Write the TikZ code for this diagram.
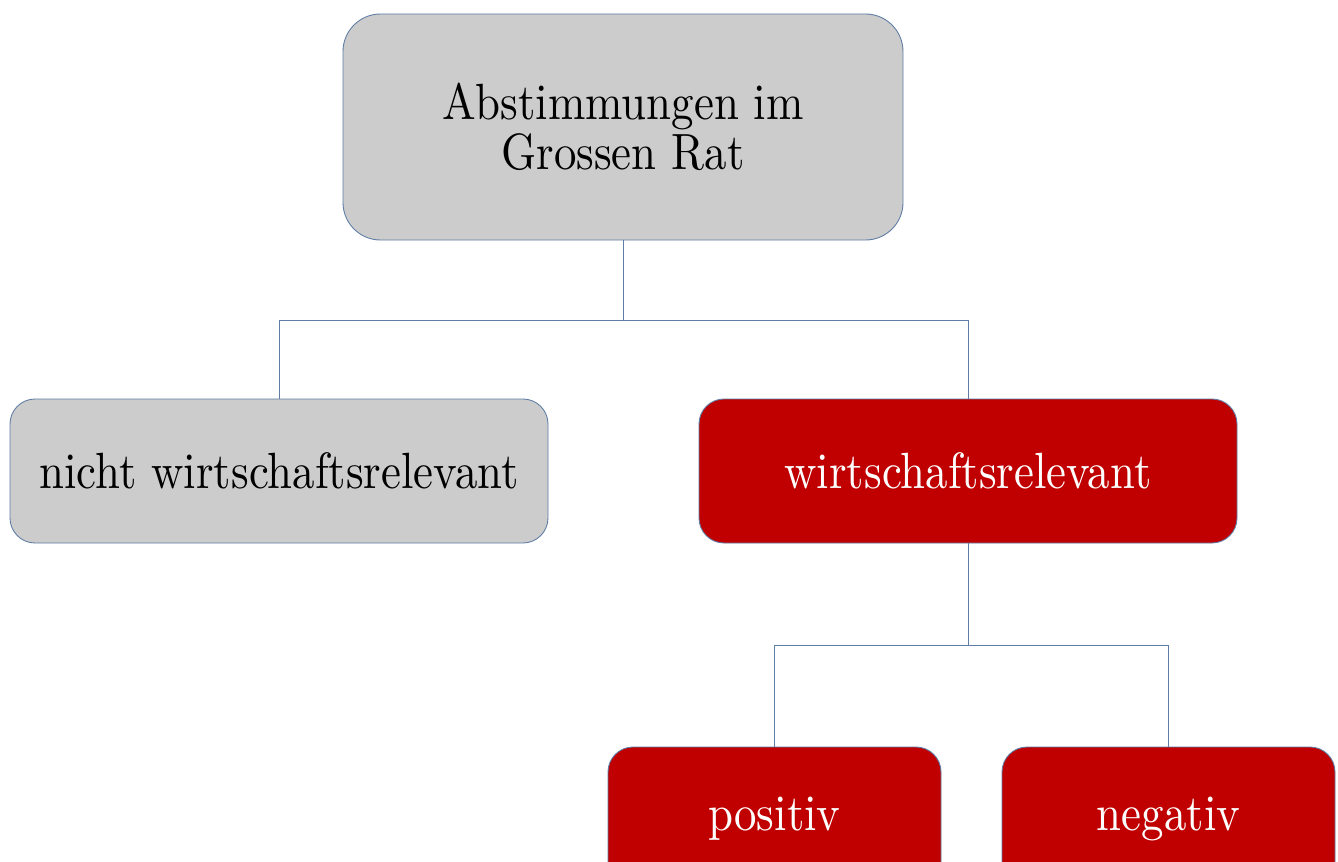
\documentclass[tikz,border=0pt]{standalone}
\usepackage{fontspec}
\setmainfont{lmroman10-regular.otf}[FakeStretch=0.88]
\definecolor{boxline}{RGB}{95,125,165}
\definecolor{ratgray}{RGB}{204,204,204}
\definecolor{ratred}{RGB}{192,0,0}
\tikzset{
  box/.style={draw=boxline, line width=0.5pt, rounded corners=0.5cm, inner sep=0pt,
    align=center, font=\fontsize{29}{28.5}\selectfont},
  graybox/.style={box, fill=ratgray, text=black},
  redbox/.style={box, fill=ratred, text=white},
  link/.style={draw=boxline, line width=0.5pt}
}

\begin{document}
\begin{tikzpicture}
  \fill[white] (0,0) rectangle (26.76,17.22);
  \useasboundingbox (0,0) rectangle (26.76,17.22);

  \node[graybox, rounded corners=0.75cm, minimum width=11.2cm, minimum height=4.52cm] (rat) at (12.46,14.68) {Abstimmungen im\\Grossen Rat};
  \node[graybox, minimum width=10.76cm, minimum height=2.88cm] (nichtrel) at (5.58,7.8) {nicht wirtschaftsrelevant};
  \node[redbox, minimum width=10.76cm, minimum height=2.88cm] (rel) at (19.36,7.8) {wirtschaftsrelevant};
  \node[redbox, minimum width=6.66cm, minimum height=2.88cm] (pos) at (15.49,0.84) {positiv};
  \node[redbox, minimum width=6.66cm, minimum height=2.88cm] (neg) at (23.37,0.84) {negativ};

  \coordinate (jrat) at (12.46,10.82);
  \coordinate (jrel) at (19.36,4.32);

  \draw[link] (rat.south) -- (jrat);
  \draw[link] (jrat) -| (nichtrel.north);
  \draw[link] (jrat) -| (rel.north);
  \draw[link] (rel.south) -- (jrel);
  \draw[link] (jrel) -| (pos.north);
  \draw[link] (jrel) -| (neg.north);
\end{tikzpicture}
\end{document}
